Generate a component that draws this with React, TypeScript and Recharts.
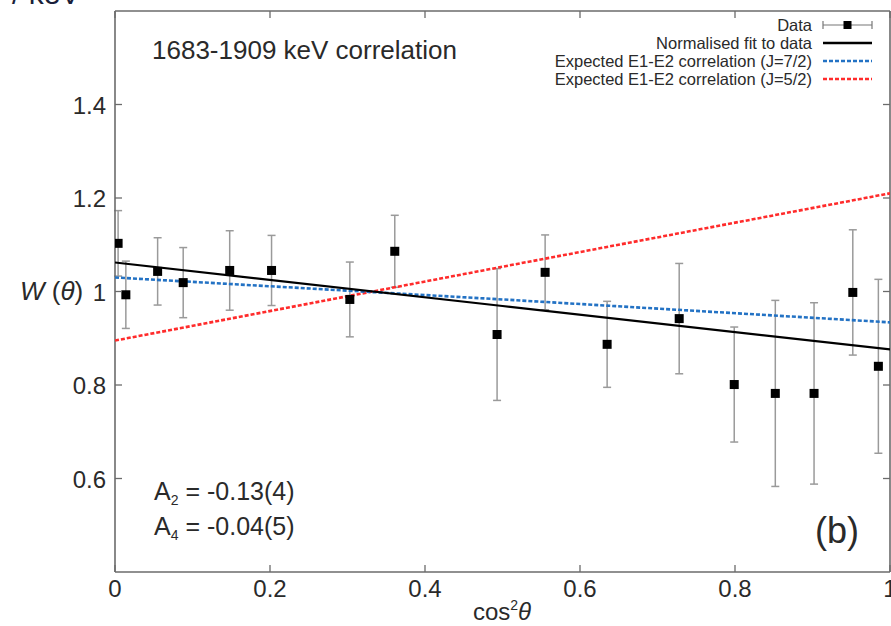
import React from "react";
import { ComposedChart, Scatter, XAxis, YAxis, ErrorBar, Legend } from "recharts";

// ---- data ----
const cos2 = [0.004, 0.014, 0.055, 0.088, 0.148, 0.202, 0.303, 0.361, 0.493, 0.555, 0.635, 0.728, 0.799, 0.852, 0.902, 0.952, 0.985];
const W = [1.103, 0.993, 1.043, 1.019, 1.045, 1.045, 0.983, 1.086, 0.908, 1.041, 0.887, 0.942, 0.801, 0.782, 0.782, 0.998, 0.84];
const Werr = [0.07, 0.072, 0.072, 0.075, 0.085, 0.075, 0.08, 0.077, 0.141, 0.08, 0.092, 0.118, 0.123, 0.199, 0.194, 0.134, 0.186];

const lineX = [0, 0.5, 1];
const fitY = [1.062, 0.969, 0.876];
const j72Y = [1.03, 0.983, 0.934];
const j52Y = [0.895, 1.053, 1.21];

const xTicks = [0, 0.2, 0.4, 0.6, 0.8, 1];
const yTicks = [0.6, 0.8, 1, 1.2, 1.4];

const legendLabels = [
  "Data",
  "Normalised fit to data",
  "Expected E1-E2 correlation (J=7/2)",
  "Expected E1-E2 correlation (J=5/2)",
];

const FONT = "'Liberation Sans', Arial, Helvetica, sans-serif";
const AXIS = "#6b6b6b";
const TXT = "#2a2a2a";
const BLUE = "#2372c4";
const RED = "#ff2b2b";

const points = cos2.map((x, i) => ({ x, y: W[i], e: Werr[i] }));
const mk = (ys: number[]) => lineX.map((x, i) => ({ x, y: ys[i] }));
const fitData = mk(fitY);
const j72Data = mk(j72Y);
const j52Data = mk(j52Y);

const fmt = (v: number) => String(Number(v.toFixed(1)));

const BottomTick = (p: any) => (
  <g>
    <line x1={p.x} x2={p.x} y1={p.y} y2={p.y - 7} stroke={AXIS} strokeWidth={1.3} />
    <text x={p.x} y={p.y + 25} textAnchor="middle" fontFamily={FONT} fontSize={24} fill={TXT}>
      {fmt(p.payload.value)}
    </text>
  </g>
);
const TopTick = (p: any) => (
  <line x1={p.x} x2={p.x} y1={p.y} y2={p.y + 7} stroke={AXIS} strokeWidth={1.3} />
);
const LeftTick = (p: any) => (
  <g>
    <line x1={p.x} x2={p.x + 7} y1={p.y} y2={p.y} stroke={AXIS} strokeWidth={1.3} />
    <text x={p.x - 9} y={p.y + 9} textAnchor="end" fontFamily={FONT} fontSize={24} fill={TXT}>
      {fmt(p.payload.value)}
    </text>
  </g>
);
const RightTick = (p: any) => (
  <line x1={p.x} x2={p.x - 7} y1={p.y} y2={p.y} stroke={AXIS} strokeWidth={1.3} />
);

const Square = (p: any) => <rect x={p.cx - 4.5} y={p.cy - 4.5} width={9} height={9} fill="#000" />;
const Nothing = () => <g />;

const renderLegend = () => {
  const x0 = 823;
  const x1 = 872;
  const tx = 812;
  const rows = [25, 43, 61, 79];
  return (
    <svg width={891} height={100} style={{ display: "block" }}>
      {legendLabels.map((l, i) => (
        <text key={l} x={tx} y={rows[i] + 6} textAnchor="end" fontFamily={FONT} fontSize={16.5} fill={TXT}>
          {l}
        </text>
      ))}
      <line x1={x0} x2={x1} y1={rows[0]} y2={rows[0]} stroke="#777" strokeWidth={1.2} />
      <line x1={x0} x2={x0} y1={rows[0] - 4} y2={rows[0] + 4} stroke="#777" strokeWidth={1.2} />
      <line x1={x1} x2={x1} y1={rows[0] - 4} y2={rows[0] + 4} stroke="#777" strokeWidth={1.2} />
      <rect x={(x0 + x1) / 2 - 4} y={rows[0] - 4} width={8} height={8} fill="#000" />
      <line x1={x0} x2={x1} y1={rows[1]} y2={rows[1]} stroke="#000" strokeWidth={2.5} />
      <line x1={x0} x2={x1} y1={rows[2]} y2={rows[2]} stroke={BLUE} strokeWidth={2.5} strokeDasharray="4 2" />
      <line x1={x0} x2={x1} y1={rows[3]} y2={rows[3]} stroke={RED} strokeWidth={2.5} strokeDasharray="4 2" />
    </svg>
  );
};

export default function App() {
  return (
    <div style={{ position: "absolute", left: 0, top: 0, width: 891, height: 626, background: "#fff", overflow: "hidden" }}>
      <ComposedChart width={891} height={626} margin={{ top: 0, right: 0, bottom: 0, left: 0 }}>
        <XAxis xAxisId="b" type="number" dataKey="x" domain={[0, 1]} ticks={xTicks} orientation="bottom" height={54}
          axisLine={{ stroke: AXIS, strokeWidth: 1.6 }} tickLine={false} tickSize={0} tickMargin={0} interval={0}
          tick={<BottomTick />} allowDataOverflow />
        <XAxis xAxisId="t" type="number" dataKey="x" domain={[0, 1]} ticks={xTicks} orientation="top" height={11}
          axisLine={{ stroke: AXIS, strokeWidth: 1.6 }} tickLine={false} tickSize={0} tickMargin={0} interval={0}
          tick={<TopTick />} allowDataOverflow />
        <YAxis yAxisId="l" type="number" dataKey="y" domain={[0.4, 1.6]} ticks={yTicks} width={115}
          axisLine={{ stroke: AXIS, strokeWidth: 1.6 }} tickLine={false} tickSize={0} tickMargin={0} interval={0}
          tick={<LeftTick />} allowDataOverflow />
        <YAxis yAxisId="r" type="number" dataKey="y" orientation="right" domain={[0.4, 1.6]} ticks={yTicks} width={1}
          axisLine={{ stroke: AXIS, strokeWidth: 1.6 }} tickLine={false} tickSize={0} tickMargin={0} interval={0}
          tick={<RightTick />} allowDataOverflow />
        <Legend layout="vertical" align="center" verticalAlign="middle" content={renderLegend}
          wrapperStyle={{ position: "absolute", left: 0, top: 0, width: 891, height: 100, pointerEvents: "none" }} />
        <Scatter xAxisId="t" yAxisId="r" data={fitData} shape={Nothing} isAnimationActive={false} legendType="none" />
        <Scatter xAxisId="b" yAxisId="l" data={j52Data} shape={Nothing} isAnimationActive={false}
          line={{ stroke: RED, strokeWidth: 2.6, strokeDasharray: "4 2" }} legendType="none" />
        <Scatter xAxisId="b" yAxisId="l" data={j72Data} shape={Nothing} isAnimationActive={false}
          line={{ stroke: BLUE, strokeWidth: 2.6, strokeDasharray: "4 2" }} legendType="none" />
        <Scatter xAxisId="b" yAxisId="l" data={fitData} shape={Nothing} isAnimationActive={false}
          line={{ stroke: "#000", strokeWidth: 2.2 }} legendType="none" />
        <Scatter xAxisId="b" yAxisId="l" data={points} shape={Square} isAnimationActive={false} legendType="none">
          <ErrorBar dataKey="e" direction="y" width={4} stroke="#9a9a9a" strokeWidth={1.5} />
        </Scatter>
      </ComposedChart>
      <svg width={891} height={626} style={{ position: "absolute", left: 0, top: 0, pointerEvents: "none" }}>
        <text x={12} y={4} fontFamily={FONT} fontSize={30} fill="#1a1f3a">/ keV</text>
        <text x={152} y={59} fontFamily={FONT} fontSize={26} fill={TXT}>1683-1909 keV correlation</text>
        <text x={154} y={500} fontFamily={FONT} fontSize={25} fill={TXT}>
          A<tspan fontSize={14} dy={5}>2</tspan><tspan dy={-5}> = -0.13(4)</tspan>
        </text>
        <text x={154} y={535} fontFamily={FONT} fontSize={25} fill={TXT}>
          A<tspan fontSize={14} dy={5}>4</tspan><tspan dy={-5}> = -0.04(5)</tspan>
        </text>
        <text x={815} y={543} fontFamily={FONT} fontSize={36} fill={TXT}>(b)</text>
        <text x={20} y={300} fontFamily={FONT} fontSize={26} fill={TXT}>
          <tspan fontStyle="italic">W</tspan> (<tspan fontStyle="italic">θ</tspan>)
        </text>
        <text x={502} y={620} textAnchor="middle" fontFamily={FONT} fontSize={24} fill={TXT}>
          cos<tspan fontSize={14} dy={-10}>2</tspan><tspan dy={10} fontStyle="italic">θ</tspan>
        </text>
      </svg>
    </div>
  );
}
